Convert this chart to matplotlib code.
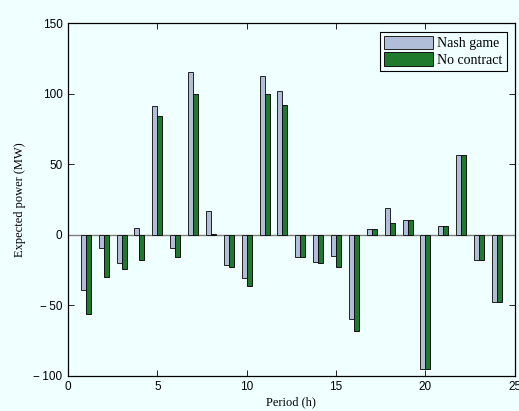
import numpy as np
import matplotlib
matplotlib.use("Agg")
import matplotlib.pyplot as plt

periods = np.arange(1, 25)
nash_game = [-39, -9.5, -20, 4.5, 91.5, -9.5, 115.5, 16.8, -21.7, -30.7, 112.5, 102,
             -15.8, -19, -14.7, -59.8, 4, 18.7, 10.2, -95.3, 6.1, 56.5, -18, -48]
no_contract = [-56, -29.8, -24, -18, 84, -16, 100, 0.5, -22.5, -36, 100, 92.4,
               -16, -20, -22.5, -68, 4, 8.3, 10.2, -95.3, 6.1, 56.3, -18, -48]
x_ticks = [0, 5, 10, 15, 20, 25]
y_ticks = [-100, -50, 0, 50, 100, 150]

bg = "#F0FFFF"
c_nash = "#B0BED8"
c_noc = "#1E7B2E"

fig = plt.figure(figsize=(5.19, 4.11), dpi=100, facecolor=bg)
ax = fig.add_axes([0.131, 0.0859, 0.861, 0.857], facecolor=bg)

w = 0.28
ax.bar(periods - w / 2, nash_game, width=w, color=c_nash, edgecolor="#222222",
       linewidth=0.7, label="Nash game", zorder=3)
ax.bar(periods + w / 2, no_contract, width=w, color=c_noc, edgecolor="#111111",
       linewidth=0.7, label="No contract", zorder=3)
ax.axhline(0, color="#808080", linewidth=1.0, zorder=2)

ax.set_xlim(0, 25)
ax.set_ylim(-100, 150)
ax.set_xticks(x_ticks)
ax.set_yticks(y_ticks)
# long minus sign, as in the original plotting style
ax.set_yticklabels([("\u2212\u2009" if v < 0 else "") + str(abs(v)) for v in y_ticks],
                   family=["Liberation Sans", "DejaVu Sans"])
ax.tick_params(direction="in", top=True, right=True, length=4, width=0.6,
               labelsize=8.5, pad=4)
for lab in ax.get_xticklabels():
    lab.set_fontfamily("Liberation Sans")
for s in ax.spines.values():
    s.set_linewidth(0.9)

ax.set_xlabel("Period (h)", family="Liberation Serif", fontsize=9, labelpad=2)
ax.set_ylabel("Expected power (MW)", family="Liberation Serif", fontsize=9, labelpad=5)

leg = ax.legend(loc="upper right", prop={"family": "Liberation Serif", "size": 10},
                fancybox=False, edgecolor="black", framealpha=1, facecolor=bg,
                handlelength=3.5, handleheight=1.1, handletextpad=0.3,
                borderpad=0.3, labelspacing=0.15, borderaxespad=0.6)
leg.get_frame().set_linewidth(0.8)

fig.savefig("out.png", dpi=100, facecolor=bg)
